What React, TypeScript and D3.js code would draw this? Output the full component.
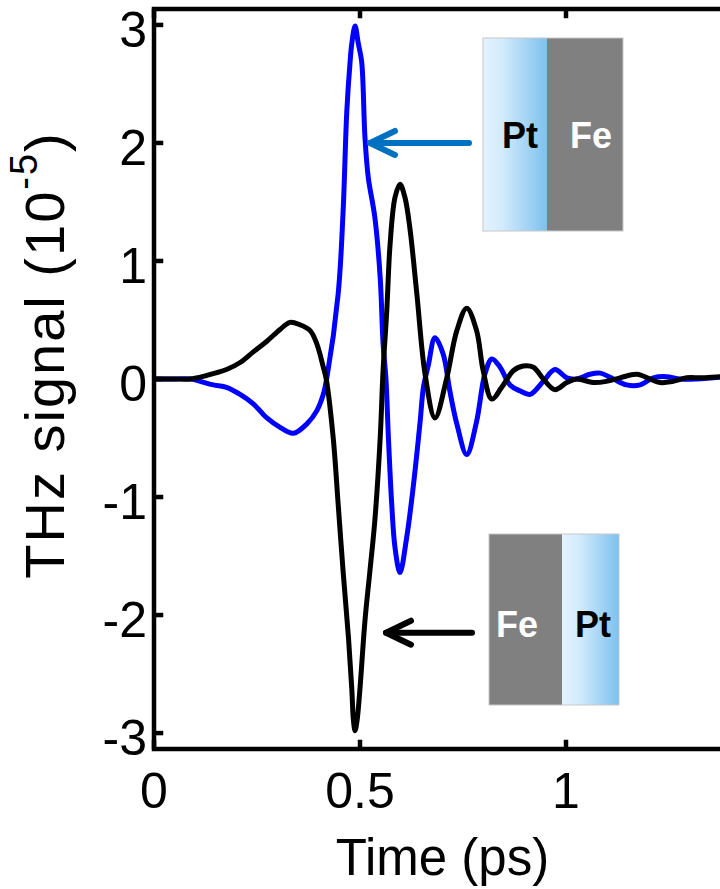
import React from "react";
import * as d3 from "d3";

// Pt/Fe sample (blue)
const ptFeTime = [0, 0.05, 0.09, 0.112, 0.144, 0.176, 0.209, 0.241, 0.274, 0.306, 0.338, 0.371, 0.395, 0.411, 0.42, 0.447, 0.459, 0.468, 0.476, 0.48, 0.488, 0.496, 0.504, 0.512, 0.52, 0.536, 0.549, 0.556, 0.563, 0.569, 0.577, 0.585, 0.597, 0.613, 0.629, 0.646, 0.654, 0.666, 0.682, 0.702, 0.718, 0.735, 0.759, 0.783, 0.803, 0.82, 0.84, 0.864, 0.888, 0.913, 0.945, 0.973, 1.002, 1.026, 1.058, 1.083, 1.115, 1.147, 1.18, 1.212, 1.244, 1.277, 1.317, 1.357, 1.4];
const ptFeSignal = [0, 0, 0, -0.02, -0.05, -0.07, -0.13, -0.21, -0.33, -0.41, -0.46, -0.38, -0.27, -0.13, 0.02, 0.72, 1.42, 2.27, 2.69, 2.84, 2.99, 2.84, 2.69, 2.05, 1.71, 1.37, 0.86, 0.3, 0, -0.5, -1.06, -1.43, -1.64, -1.35, -0.92, -0.36, -0.07, 0.12, 0.35, 0.21, -0.1, -0.38, -0.64, -0.36, 0.04, 0.17, 0.1, -0.05, -0.1, -0.13, -0.02, 0.08, 0.01, 0, 0.04, 0.05, 0, -0.05, -0.05, 0.01, 0.02, 0, 0, 0.01, 0.02];

// Fe/Pt sample (black)
const fePtTime = [0, 0.05, 0.087, 0.128, 0.176, 0.209, 0.241, 0.274, 0.306, 0.33, 0.354, 0.379, 0.395, 0.411, 0.418, 0.435, 0.447, 0.459, 0.472, 0.48, 0.484, 0.488, 0.493, 0.5, 0.512, 0.524, 0.536, 0.549, 0.556, 0.565, 0.573, 0.585, 0.597, 0.609, 0.621, 0.638, 0.658, 0.682, 0.71, 0.735, 0.759, 0.783, 0.799, 0.82, 0.844, 0.872, 0.896, 0.921, 0.945, 0.973, 1.002, 1.026, 1.066, 1.098, 1.131, 1.172, 1.204, 1.228, 1.26, 1.293, 1.33, 1.374, 1.4];
const fePtSignal = [0, 0, 0, 0.03, 0.08, 0.14, 0.23, 0.32, 0.42, 0.48, 0.46, 0.41, 0.3, 0.1, 0, -0.5, -1.06, -1.63, -2.19, -2.62, -2.89, -2.98, -2.89, -2.62, -2.05, -1.63, -1.2, -0.5, 0.07, 0.58, 1.14, 1.54, 1.65, 1.54, 1.28, 0.72, 0.04, -0.33, 0, 0.41, 0.6, 0.41, 0.07, -0.17, -0.07, 0.07, 0.11, 0.1, 0, -0.09, -0.03, 0, -0.03, -0.02, 0.01, 0.04, 0, -0.03, -0.02, 0.01, 0.01, 0.02, 0.02];

const xTicks = [0, 0.5, 1];
const yTicks = [-3, -2, -1, 0, 1, 2, 3];
const xTitle = "Time (ps)";

const FONT = "'Liberation Sans', Arial, Helvetica, sans-serif";

export default function App() {
  const W = 720, H = 889;
  const left = 154, top = 9, bottom = 749;
  const x = d3.scaleLinear().domain([0, 1.4]).range([left, left + 1.4 * 412]);
  const y = d3.scaleLinear().domain([-3.135, 3.135]).range([bottom, top]);
  const right = x(1.4);

  const line = d3
    .line<[number, number]>()
    .x((d) => x(d[0]))
    .y((d) => y(d[1]))
    .curve(d3.curveCatmullRom.alpha(0.5));

  const blue = line(ptFeTime.map((t, i) => [t, ptFeSignal[i]] as [number, number])) || "";
  const black = line(fePtTime.map((t, i) => [t, fePtSignal[i]] as [number, number])) || "";

  const axisW = 4.5;
  const tickLen = 7;

  // annotation geometry (pixel layout)
  const topBox = { x: 483, y: 38, w1: 64, w2: 76, h: 193 };
  const botBox = { x: 489, y: 534, w1: 73, w2: 57, h: 171 };

  return (
    <svg
      width={W}
      height={H}
      style={{ position: "absolute", left: 0, top: 0, background: "#fff" }}
      fontFamily={FONT}
    >
      <defs>
        <linearGradient id="ptGrad" x1="0" x2="1" y1="0" y2="0">
          <stop offset="0" stopColor="#e4f3fe" />
          <stop offset="0.3" stopColor="#d3ebfc" />
          <stop offset="1" stopColor="#7dc1ef" />
        </linearGradient>
        <clipPath id="plotClip">
          <rect x={left} y={top} width={right - left} height={bottom - top} />
        </clipPath>
      </defs>

      {/* curves */}
      <g clipPath="url(#plotClip)">
        <path d={blue} fill="none" stroke="#0000ff" strokeWidth={5} strokeLinejoin="round" />
        <path d={black} fill="none" stroke="#000" strokeWidth={5} strokeLinejoin="round" />
      </g>

      {/* top inset: Pt | Fe */}
      <rect x={topBox.x} y={topBox.y} width={topBox.w1} height={topBox.h} fill="url(#ptGrad)" />
      <rect x={topBox.x + topBox.w1} y={topBox.y} width={topBox.w2} height={topBox.h} fill="#808080" />
      <rect x={topBox.x} y={topBox.y} width={topBox.w1 + topBox.w2} height={topBox.h} fill="none" stroke="#c8c8c8" strokeWidth={1} />
      <text x={topBox.x + 37} y={148} fontSize={36} fontWeight="bold" textAnchor="middle" fill="#000">Pt</text>
      <text x={topBox.x + topBox.w1 + 44} y={148} fontSize={36} fontWeight="bold" textAnchor="middle" fill="#fff">Fe</text>

      {/* bottom inset: Fe | Pt */}
      <rect x={botBox.x} y={botBox.y} width={botBox.w1} height={botBox.h} fill="#808080" />
      <rect x={botBox.x + botBox.w1} y={botBox.y} width={botBox.w2} height={botBox.h} fill="url(#ptGrad)" />
      <rect x={botBox.x} y={botBox.y} width={botBox.w1 + botBox.w2} height={botBox.h} fill="none" stroke="#c8c8c8" strokeWidth={1} />
      <text x={botBox.x + 28} y={637} fontSize={36} fontWeight="bold" textAnchor="middle" fill="#fff">Fe</text>
      <text x={botBox.x + botBox.w1 + 31} y={637} fontSize={36} fontWeight="bold" textAnchor="middle" fill="#000">Pt</text>

      {/* arrows */}
      <g stroke="#0070c0" strokeWidth={6} strokeLinecap="round" strokeLinejoin="round" fill="none">
        <line x1={469} y1={y(2)} x2={370} y2={y(2)} />
        <polyline points={`${395},${y(2) - 12} ${370},${y(2)} ${395},${y(2) + 12}`} />
      </g>
      <g stroke="#000" strokeWidth={6} strokeLinecap="round" strokeLinejoin="round" fill="none">
        <line x1={472} y1={y(-2.15)} x2={386} y2={y(-2.15)} />
        <polyline points={`${411},${y(-2.15) - 12} ${386},${y(-2.15)} ${411},${y(-2.15) + 12}`} />
      </g>

      {/* frame */}
      <rect x={left} y={top} width={right - left} height={bottom - top} fill="none" stroke="#000" strokeWidth={axisW} />

      {/* x ticks */}
      {xTicks.map((t) => (
        <g key={"xt" + t}>
          <line x1={x(t)} x2={x(t)} y1={bottom} y2={bottom - tickLen - axisW / 2} stroke="#000" strokeWidth={axisW} />
          <line x1={x(t)} x2={x(t)} y1={top} y2={top + tickLen + axisW / 2} stroke="#000" strokeWidth={axisW} />
          <text x={x(t)} y={808} fontSize={50} textAnchor="middle" fill="#000">
            {String(t)}
          </text>
        </g>
      ))}

      {/* y ticks */}
      {yTicks.map((v) => (
        <g key={"yt" + v}>
          <line x1={left} x2={left + tickLen + axisW / 2} y1={y(v)} y2={y(v)} stroke="#000" strokeWidth={axisW} />
          <text x={147} y={y(v) + 22} fontSize={50} textAnchor="end" fill="#000">
            {String(v)}
          </text>
        </g>
      ))}

      {/* axis titles */}
      <text x={(left + right) / 2} y={875} fontSize={51} textAnchor="middle" fill="#000">
        {xTitle}
      </text>
      <text transform={`translate(64, 355) rotate(-90)`} fontSize={56} textAnchor="middle" fill="#000" letterSpacing={2}>
        THz signal (10
        <tspan fontSize={38} dy={-27}>-5</tspan>
        <tspan dy={27}>)</tspan>
      </text>
    </svg>
  );
}
